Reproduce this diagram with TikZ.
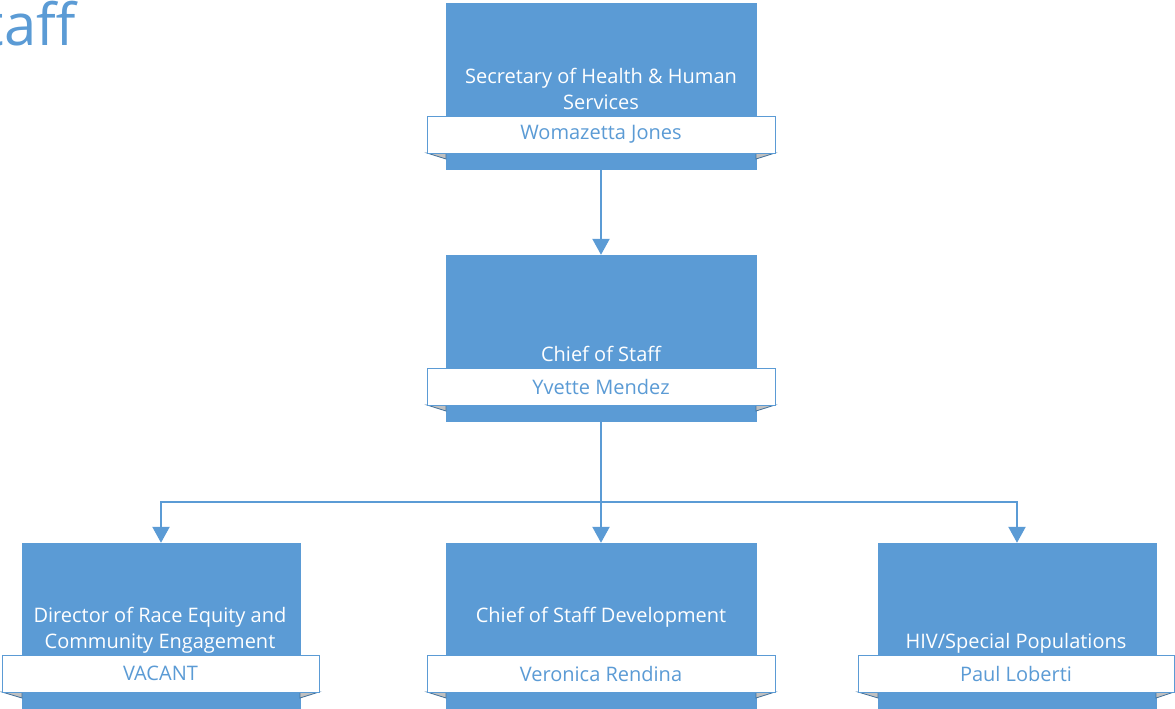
\documentclass[tikz,border=0pt]{standalone}
\usepackage{fontspec}
\setmainfont{Open Sans}
\usetikzlibrary{arrows.meta}
\definecolor{boxblue}{RGB}{91,155,213}
\definecolor{darkblue}{RGB}{65,113,156}
\definecolor{foldgrey}{RGB}{192,192,192}
\begin{document}
\begin{tikzpicture}[x=1pt,y=1pt,
  posbox/.style={fill=boxblue,draw=boxblue,minimum height=166pt,inner sep=0pt,anchor=center},
  namebar/.style={fill=white,draw=boxblue,line width=1pt,minimum height=37pt,inner sep=0pt,anchor=center,text=boxblue,font=\fontsize{20}{24}\selectfont},
  titletext/.style={text=white,align=center,font=\fontsize{20}{26}\selectfont,inner sep=0pt},
  arr/.style={draw=boxblue,line width=2.2pt,-{Triangle[length=16pt,width=17pt]}},
  fold/.style={fill=foldgrey,draw=darkblue,line width=0.8pt}
]
\useasboundingbox (0,0) rectangle (1175,-709);
\clip (0,0) rectangle (1175,-709);
% title
\node[anchor=base east,text=boxblue,font=\fontsize{58}{60}\selectfont,inner sep=0pt] (title) at (76,-46) {Staff};
% boxes
\node[posbox,minimum width=310pt] (topbox) at (601,-86) {};
\node[posbox,minimum width=310pt] (chiefbox) at (601,-338) {};
\node[posbox,minimum width=278pt] (leftbox) at (161,-626) {};
\node[posbox,minimum width=310pt] (midbox) at (601,-626) {};
\node[posbox,minimum width=278pt] (rightbox) at (1017,-626) {};
% folds
\foreach \l/\r/\bl/\br/\y in {427/775/446/756/153, 427/775/446/756/405, 2/319/22/300/692, 427/775/446/756/692, 858/1174/878/1156/692}{
  \filldraw[fold] (\l,-\y) -- (\bl,-\y) -- (\bl,-\y-6) -- cycle;
  \filldraw[fold] (\r,-\y) -- (\br,-\y) -- (\br,-\y-6) -- cycle;
}
% name bars
\node[namebar,minimum width=348pt] (topname) at (601,-134.5) {Womazetta Jones};
\node[namebar,minimum width=348pt] (chiefname) at (601,-386.5) {Yvette Mendez};
\node[namebar,minimum width=317pt] (leftname) at (160.5,-673.5) {VACANT};
\node[namebar,minimum width=348pt] (midname) at (601,-673.5) {Veronica Rendina};
\node[namebar,minimum width=316pt] (rightname) at (1016,-673.5) {Paul Loberti};
% titles
\node[titletext] (toptitle) at (601,-89) {Secretary of Health \& Human\\Services};
\node[titletext] (chieftitle) at (601,-354) {Chief of Staff};
\node[titletext] (lefttitle) at (160,-630) {Director of Race Equity and\\Community Engagement};
\node[titletext] (midtitle) at (601,-617) {Chief of Staff Development};
\node[titletext] (righttitle) at (1016,-643) {HIV/Special Populations};
% connectors
\draw[arr] (topbox.south) -- (chiefbox.north);
\coordinate (bus) at (601,-502);
\draw[draw=boxblue,line width=2.2pt] (chiefbox.south) -- (bus);
\draw[arr] (bus) -- (midbox.north);
\draw[arr] (bus) -| (leftbox.north);
\draw[arr] (bus) -| (rightbox.north);
\end{tikzpicture}
\end{document}
